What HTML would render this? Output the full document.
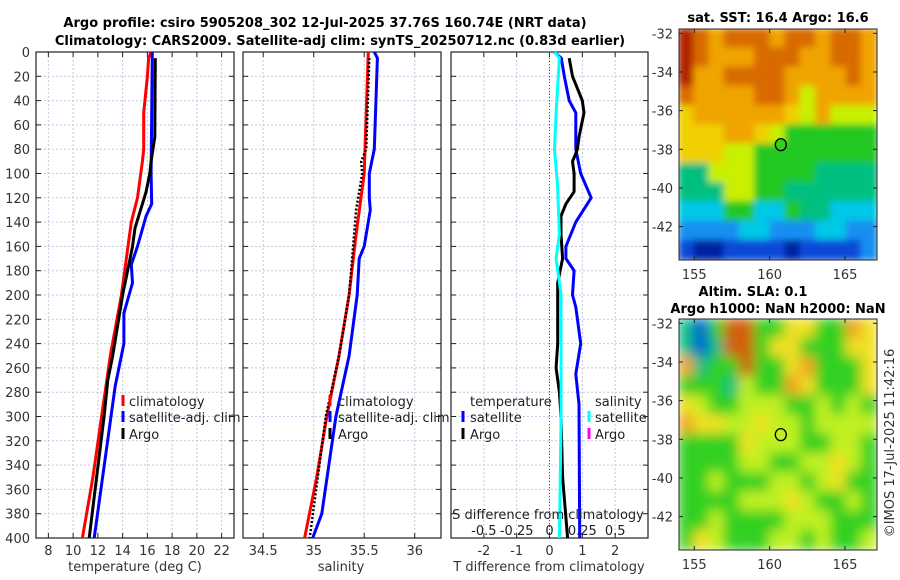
<!DOCTYPE html>
<html><head><meta charset="utf-8"><style>
body{margin:0;background:#fff;}
svg{display:block;font-family:"DejaVu Sans","Liberation Sans",sans-serif;}
</style></head><body>
<svg id="fig" width="900" height="580" viewBox="0 0 900 580">
<defs><filter id="blur1"><feGaussianBlur stdDeviation="3.5"/></filter><filter id="blur2"><feGaussianBlur stdDeviation="6"/></filter>
<clipPath id="cm1"><rect x="679" y="29" width="198" height="231"/></clipPath>
<clipPath id="cm2"><rect x="679" y="319" width="198" height="231"/></clipPath></defs>
<text x="325" y="27" text-anchor="middle" font-size="13" font-weight="bold">Argo profile: csiro 5905208_302 12-Jul-2025 37.76S 160.74E (NRT data)</text>
<text x="340" y="45" text-anchor="middle" font-size="13" font-weight="bold">Climatology: CARS2009. Satellite-adj clim: synTS_20250712.nc (0.83d earlier)</text>
</svg>
<script>
// ---- data ----
const depthTicks=[0,20,40,60,80,100,120,140,160,180,200,220,240,260,280,300,320,340,360,380,400];
const tempTicks=[8,10,12,14,16,18,20,22];
const salTicks=[34.5,35,35.5,36];
const tdiffTicks=[-2,-1,0,1,2];
const sdiffTicks=[-0.5,-0.25,0,0.25,0.5];
const sdiffLabels=["-0.5","-0.25","0","0.25","0.5"];
const climTDepth=[0,5,20,50,80,90,120,140,200,250,300,350,400];
const climT=[16.3,16.1,16.0,15.7,15.7,15.6,15.2,14.7,13.9,13.0,12.3,11.6,10.75];
const satTDepth=[0,100,125,135,160,175,190,215,240,275,400];
const satT=[16.4,16.3,16.35,15.9,15.2,14.7,14.8,14.1,14.1,13.4,11.7];
const argoTDepth=[5,70,90,100,115,125,135,145,160,170,200,250,270,300,350,400];
const argoT=[16.64,16.6,16.3,16.2,15.9,15.6,15.3,15.0,14.8,14.6,14.0,13.2,12.8,12.5,11.9,11.3];
const climSDepth=[0,100,150,200,250,300,350,400];
const climS=[35.54,35.5,35.42,35.35,35.25,35.13,35.03,34.91];
const satSDepth=[0,5,80,100,120,130,160,170,200,250,300,380,400];
const satS=[35.6,35.63,35.6,35.55,35.55,35.56,35.5,35.45,35.43,35.35,35.22,35.08,34.99];
const argoSDepth=[5,80,90,100,130,200,250,300,400];
const argoS=[35.55,35.52,35.47,35.48,35.42,35.35,35.25,35.12,34.96];
const satTdDepth=[0,5,20,40,50,80,100,120,140,160,170,180,200,210,240,265,290,400];
const satTd=[0.14,0.36,0.45,0.6,0.8,0.8,0.95,1.27,0.8,0.5,0.5,0.75,0.7,0.8,0.95,0.8,0.9,0.92];
const argoTdDepth=[5,20,40,50,70,80,87,90,100,115,125,135,150,170,190,240,260,280,300,350,400];
const argoTd=[0.6,0.7,1.0,1.05,0.9,0.85,0.75,0.7,0.75,0.75,0.5,0.35,0.35,0.4,0.25,0.25,0.2,0.3,0.35,0.4,0.55];
const satSdDepth=[0,5,50,80,110,150,170,200,300,400];
const satSd=[0.038,0.075,0.05,0.038,0.062,0.075,0.05,0.088,0.088,0.075];
const lonTicks=[155,160,165];
const latTicks=[-32,-34,-36,-38,-40,-42];
const argoLon=160.74, argoLat=-37.76;

const NS="http://www.w3.org/2000/svg";
const svg=document.getElementById('fig');
function mk(tag,attrs,parent){const e=document.createElementNS(NS,tag);for(const k in attrs)e.setAttribute(k,attrs[k]);(parent||svg).appendChild(e);return e;}
function txt(s,attrs,parent){const e=mk('text',attrs,parent);e.textContent=s;return e;}

const Y0=52,Y1=538;
const yD=d=>Y0+(d/400)*(Y1-Y0);
const panels=[
 {x0:36,x1:234,min:7,max:23,name:'temperature'},
 {x0:243,x1:441,min:34.3,max:36.26,name:'salinity'},
 {x0:451,x1:648,min:-3,max:3,name:'difference'}];
const sx=(p,v)=>p.x0+(v-p.min)/(p.max-p.min)*(p.x1-p.x0);

panels.forEach((p,i)=>{
 const g=mk('g',{});
 
 
 const ticks=i==0?tempTicks:i==1?salTicks:tdiffTicks;
 depthTicks.forEach(d=>{const l=mk('line',{x1:p.x0,x2:p.x1,y1:yD(d),y2:yD(d),stroke:'#c4c8e0','stroke-dasharray':'2,2','stroke-width':1},g);
  
  mk('line',{x1:p.x0,x2:p.x0+5,y1:yD(d),y2:yD(d),stroke:'#222'},g);
  mk('line',{x1:p.x1-5,x2:p.x1,y1:yD(d),y2:yD(d),stroke:'#222'},g);});
 ticks.forEach(t=>{const x=sx(p,t);mk('line',{x1:x,x2:x,y1:Y0,y2:Y1,stroke:'#c4c8e0','stroke-dasharray':'2,2'},g);
  mk('line',{x1:x,x2:x,y1:Y1,y2:Y1-5,stroke:'#222'},g);mk('line',{x1:x,x2:x,y1:Y0,y2:Y0+5,stroke:'#222'},g);
  const lb=txt(String(t),{x:x,y:555,'text-anchor':'middle','font-size':13,fill:'#333'},g);
  });
 const fr=mk('rect',{x:p.x0,y:Y0,width:p.x1-p.x0,height:Y1-Y0,fill:'none',stroke:'#222','stroke-width':1.2},g);
 
 p.g=g;
});
depthTicks.forEach(d=>{const l=txt(String(d),{x:30,y:yD(d)+5,'text-anchor':'end','font-size':13,fill:'#333'});
 });
[['temperature (deg C)',135],['salinity',341],['T difference from climatology',549]].forEach(([s,x])=>{
 const l=txt(s,{x:x,y:571,'text-anchor':'middle','font-size':13,fill:'#333'});
 });

function line(p,ds,vs,color,name,dash,scale){
 const pts=ds.map((d,i)=>sx(p,vs[i]*(scale||1)).toFixed(1)+','+yD(d).toFixed(1)).join(' ');
 const e=mk('polyline',{points:pts,fill:'none',stroke:color,'stroke-width':dash?2.5:3,'stroke-linejoin':'round'},p.g);
 if(dash)e.setAttribute('stroke-dasharray',dash);
 
}
const P=panels;
line(P[0],climTDepth,climT,'#f00','temperature-climatology-line');
line(P[0],satTDepth,satT,'#00f','temperature-satellite-line');
line(P[0],argoTDepth,argoT,'#000','temperature-argo-line');
line(P[1],climSDepth,climS,'#f00','salinity-climatology-line');
line(P[1],satSDepth,satS,'#00f','salinity-satellite-line');
line(P[1],argoSDepth,argoS,'#000','salinity-argo-line','2,2');
const z=mk('line',{x1:sx(P[2],0),x2:sx(P[2],0),y1:Y0,y2:Y1,stroke:'#555','stroke-dasharray':'1,2'},P[2].g);

line(P[2],satTdDepth,satTd,'#00f','tdiff-satellite-line');
line(P[2],argoTdDepth,argoTd,'#000','tdiff-argo-line');
line(P[2],satSdDepth,satSd,'#0ff','sdiff-satellite-line',null,4);
const sg=txt('S difference from climatology',{x:548,y:519,'text-anchor':'middle','font-size':13,fill:'#222'});

sdiffTicks.forEach((t,i)=>{const l=txt(sdiffLabels[i],{x:sx(P[2],t*4),y:535,'text-anchor':'middle','font-size':13,fill:'#222'});
 });

function legend(mx,tx,rows){rows.forEach(([s,c,y])=>{
 if(c){const m=mk('rect',{x:mx-1.5,y:y-6,width:3,height:11,fill:c});}
 const t=txt(s,{x:tx,y:y+5,'font-size':13,fill:'#222'});});}
legend(123,129,[['climatology','#f00',401],['satellite-adj. clim','#00f',417],['Argo','#000',434]]);
legend(330,338,[['climatology','#f00',401],['satellite-adj. clim','#00f',417],['Argo','#000',434]]);
legend(463,470,[['temperature',null,401],['satellite','#00f',417],['Argo','#000',434]]);
legend(589,595,[['salinity',null,401],['satellite','#0ff',417],['Argo','#f0f',434]]);

// ---- maps ----
const sstCol={R:'#b02000',O:'#d86a00',o:'#f0a400',Y:'#f0d000',y:'#c8f000',G:'#20c820',g:'#00c080',c:'#00c8e8',b:'#1890f0',B:'#1048d8',N:'#0020a0'};
const sstGrid=["ROoOOOoOOoOOo","ROoooOOOooOOo","RooOOOOooooOo","OooooOOoyoooo","YooooooYyoyyy","YYYooYyGGGGGG","YYYyyGGGGGGGG","ggyyyGGGGgggg","gggyyGGgggggg","cccGGccGggccc","bbbbccbbbccbb","BNNBBBBNBBBBb"];
const slaCol={G:'#30d020',y:'#c0f020',Y:'#f0e020',o:'#f0a020',O:'#d06010',c:'#20b0e0',B:'#0060d0',t:'#10c080'};
const slaGrid=["tBGOOGGYYGGoY","tBtOOGYYGGGYY","otGGOGGYoGGGY","GGGtyGGoYGGGY","YyGGyyyGGyGyG","oYYyyYyyGyyyy","GGGGYyyyGGyyG","GGGGyyGGyyYyG","GGyGGGyyGyYGG","GGGGyyyYyGGyG","GGyGGGGyyyGGG","GYyGGGyyGyGGy"];
function map(top,grid,cols,clip,blur,name,lat32){
 const g=mk('g',{});
 const img=mk('g',{'clip-path':'url(#'+clip+')'},g);
 const inner=mk('g',{filter:'url(#'+blur+')'},img);
 const cw=198/13,ch=231/12;
 grid.forEach((row,r)=>[...row].forEach((k,c)=>mk('rect',{x:679+c*cw-1,y:top+r*ch-1,width:cw+2,height:ch+2,fill:cols[k]},inner)));
 mk('rect',{x:679,y:top,width:198,height:231,fill:'none',stroke:'#222'},g);
 const lx=l=>694.3+(l-155)*15.07, ly=l=>lat32+(-32-l)*19.33;
 lonTicks.forEach(l=>{mk('line',{x1:lx(l),x2:lx(l),y1:top+231,y2:top+227,stroke:'#222'},g);mk('line',{x1:lx(l),x2:lx(l),y1:top,y2:top+4,stroke:'#222'},g);
  const t=txt(String(l),{x:lx(l),y:top+250,'text-anchor':'middle','font-size':13,fill:'#333'},g);});
 latTicks.forEach(l=>{mk('line',{x1:679,x2:683,y1:ly(l),y2:ly(l),stroke:'#222'},g);mk('line',{x1:877,x2:873,y1:ly(l),y2:ly(l),stroke:'#222'},g);
  const t=txt(String(l),{x:673,y:ly(l)+5,'text-anchor':'end','font-size':13,fill:'#333'},g);});
 const c=mk('ellipse',{cx:lx(argoLon),cy:ly(argoLat),rx:5.5,ry:6,fill:name=='sst-map'?'#30d020':'none',stroke:'#000','stroke-width':1.3},g);
 
}
map(29,sstGrid,sstCol,'cm1','blur1','sst-map',33.3);
map(319,slaGrid,slaCol,'cm2','blur2','sla-map',323.3);
[['sat. SST: 16.4 Argo: 16.6',778,22,'sst-map-title'],['Altim. SLA: 0.1',753,296,'sla-map-title-1'],['Argo h1000: NaN h2000: NaN',778,313,'sla-map-title-2']].forEach(([s,x,y,n])=>{
 const t=txt(s,{x:x,y:y,'text-anchor':'middle','font-size':13,'font-weight':'bold'});});
const cr=txt('©IMOS 17-Jul-2025 11:42:16',{x:0,y:0,'text-anchor':'middle','font-size':13,fill:'#333',transform:'translate(894,443) rotate(-90)'});

</script>
</body></html>
